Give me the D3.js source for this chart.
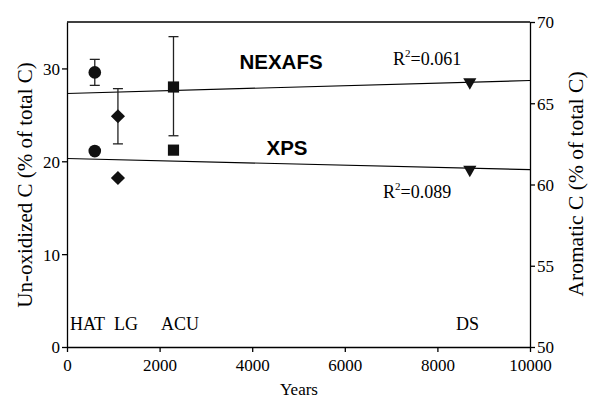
<!DOCTYPE html>
<html>
<head>
    <script src="https://cdn.jsdelivr.net/npm/d3@7"></script>
</head>

<style>
    body { margin: 0; background: white; }
    .axis path, .axis line { stroke: black; stroke-width: 1.3px; }
    .axis text { fill: black; font-family: "Liberation Serif", "Times New Roman", serif; font-size: 17px; }
</style>

<body>
<div id="chart"></div>

<script>

    // sites and their ages (years)
    var sites = ['HAT', 'LG', 'ACU', 'DS'];
    var years = [600, 1100, 2300, 8700];
    var shapes = ['circle', 'diamond', 'square', 'triangle'];

    // NEXAFS: aromatic C (right axis), with error bars
    var nexafs = [66.9, 64.2, 66.0, 66.3];
    var nexafsLow = [66.1, 62.5, 63.0, null];
    var nexafsHigh = [67.7, 65.9, 69.1, null];

    // XPS: un-oxidized C (left axis)
    var xps = [21.1, 18.2, 21.2, 19.1];

    // regression lines, read at years 0 and 10000
    var fitYears = [0, 10000];
    var nexafsFit = [65.6, 66.4];
    var xpsFit = [20.3, 19.1];

    var xTicks = [0, 2000, 4000, 6000, 8000, 10000];
    var leftTicks = [0, 10, 20, 30];
    var rightTicks = [50, 55, 60, 65, 70];

    var totalWidth = 590, totalHeight = 398;
    var padding = { top: 22, right: 60, bottom: 51, left: 67 };
    var width = 463;
    var height = totalHeight - padding.top - padding.bottom;

    var xScale = d3.scaleLinear().domain([0, 10000]).range([0, width]);
    var yLeft = d3.scaleLinear().domain([0, 35]).range([height, 0]);
    var yRight = d3.scaleLinear().domain([50, 70]).range([height, 0]);

    var svg = d3.select('#chart').append('svg')
        .attr('width', totalWidth)
        .attr('height', totalHeight);

    var g = svg.append('g')
        .attr('transform', 'translate(' + padding.left + ',' + padding.top + ')');

    // top frame line
    g.append('line')
        .attr('x1', 0).attr('x2', width)
        .attr('y1', 0).attr('y2', 0)
        .attr('stroke', 'black').attr('stroke-width', 1.3);

    g.append('g')
        .attr('class', 'axis')
        .attr('transform', 'translate(0,' + height + ')')
        .call(d3.axisBottom(xScale).tickValues(xTicks).tickFormat(d3.format('d'))
            .tickSize(5).tickSizeOuter(0).tickPadding(7));

    var leftAxis = g.append('g')
        .attr('class', 'axis')
        .call(d3.axisLeft(yLeft).tickValues(leftTicks).tickSize(5).tickSizeOuter(0).tickPadding(2));

    var rightAxis = g.append('g')
        .attr('class', 'axis')
        .attr('transform', 'translate(' + width + ',0)')
        .call(d3.axisRight(yRight).tickValues(rightTicks).tickSize(5).tickSizeOuter(0).tickPadding(2));

    leftAxis.selectAll('text').attr('dy', '0.35em');
    rightAxis.selectAll('text').attr('dy', '0.35em');
    g.selectAll('.axis .domain').attr('stroke-width', 1.5);

    // regression lines
    var fitLine = function(scale) {
        return d3.line()
            .x(function(d, i) { return xScale(fitYears[i]); })
            .y(function(d) { return scale(d); });
    };
    g.append('path').attr('d', fitLine(yRight)(nexafsFit))
        .attr('fill', 'none').attr('stroke', 'black').attr('stroke-width', 1.2);
    g.append('path').attr('d', fitLine(yLeft)(xpsFit))
        .attr('fill', 'none').attr('stroke', 'black').attr('stroke-width', 1.2);

    // error bars for NEXAFS
    var capW = 5;
    years.forEach(function(yr, i) {
        if (nexafsLow[i] === null) return;
        var x = xScale(yr);
        var eb = g.append('g').attr('stroke', '#222').attr('stroke-width', 1.3);
        eb.append('line').attr('x1', x).attr('x2', x)
            .attr('y1', yRight(nexafsLow[i])).attr('y2', yRight(nexafsHigh[i]));
        [nexafsLow[i], nexafsHigh[i]].forEach(function(v) {
            eb.append('line').attr('x1', x - capW).attr('x2', x + capW)
                .attr('y1', yRight(v)).attr('y2', yRight(v));
        });
    });

    var symbolFor = {
        circle: d3.symbol().type(d3.symbolCircle).size(125),
        diamond: d3.symbol().type(d3.symbolSquare).size(100),
        square: d3.symbol().type(d3.symbolSquare).size(125),
        triangle: d3.symbol().type(d3.symbolTriangle).size(75)
    };
    var rotFor = { circle: 0, diamond: 45, square: 0, triangle: 180 };

    function drawMarkers(values, scale) {
        g.selectAll(null)
            .data(values)
            .enter()
            .append('path')
            .attr('d', function(d, i) { return symbolFor[shapes[i]](); })
            .attr('transform', function(d, i) {
                return 'translate(' + xScale(years[i]) + ',' + scale(d) + ') rotate(' + rotFor[shapes[i]] + ')';
            })
            .attr('fill', '#111');
    }
    drawMarkers(nexafs, yRight);
    drawMarkers(xps, yLeft);

    // series labels
    var labels = g.append('g').attr('font-family', 'Liberation Sans, Arial, sans-serif')
        .attr('font-weight', 'bold').attr('font-size', 20.5).attr('text-anchor', 'middle');
    labels.append('text').attr('x', 281 - padding.left).attr('y', 69 - padding.top).text('NEXAFS');
    labels.append('text').attr('x', 287 - padding.left).attr('y', 155 - padding.top).text('XPS');

    var serif = 'Liberation Serif, Times New Roman, serif';
    var r1 = g.append('text').attr('font-family', serif).attr('font-size', 18)
        .attr('x', 393 - padding.left).attr('y', 65 - padding.top);
    r1.append('tspan').text('R');
    r1.append('tspan').attr('font-size', 11).attr('dy', -8).text('2');
    r1.append('tspan').attr('dy', 8).text('=0.061');

    var r2 = g.append('text').attr('font-family', serif).attr('font-size', 18)
        .attr('x', 383 - padding.left).attr('y', 198 - padding.top);
    r2.append('tspan').text('R');
    r2.append('tspan').attr('font-size', 11).attr('dy', -8).text('2');
    r2.append('tspan').attr('dy', 8).text('=0.089');

    // site labels
    var siteX = [70, 114, 161, 456];
    g.selectAll('text.site')
        .data(sites)
        .enter()
        .append('text')
        .attr('class', 'site')
        .attr('font-family', serif).attr('font-size', 18)
        .attr('x', function(d, i) { return siteX[i] - padding.left; })
        .attr('y', 330 - padding.top)
        .text(function(d) { return d; });

    // axis titles
    svg.append('text')
        .attr('font-family', serif).attr('font-size', 17)
        .attr('text-anchor', 'middle')
        .attr('x', 299).attr('y', 395)
        .text('Years');

    svg.append('text')
        .attr('font-family', serif).attr('font-size', 21)
        .attr('text-anchor', 'middle')
        .attr('transform', 'translate(32,185) rotate(-90)')
        .text('Un-oxidized C (% of total C)');

    svg.append('text')
        .attr('font-family', serif).attr('font-size', 21.5)
        .attr('text-anchor', 'middle')
        .attr('transform', 'translate(583,184) rotate(-90)')
        .text('Aromatic C (% of total C)');

</script>
</body>
</html>
